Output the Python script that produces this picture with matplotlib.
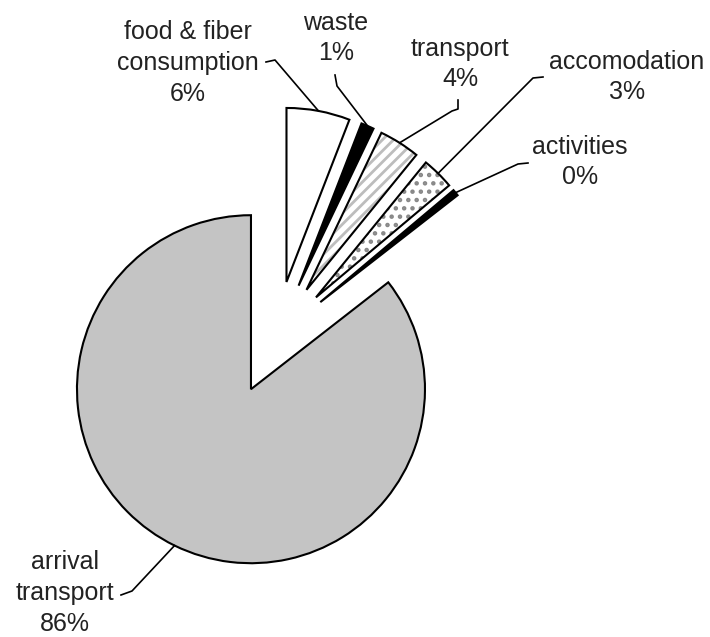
import matplotlib
matplotlib.use("Agg")
import matplotlib.pyplot as plt
from matplotlib.patches import Wedge
import numpy as np

# slice data (clockwise from 12 o'clock)
categories = ["food & fiber\nconsumption", "waste", "transport",
              "accomodation", "activities", "arrival\ntransport"]
shares = [5.9, 1.2, 3.8, 3.0, 0.6, 85.7]
pct_labels = ["6%", "1%", "4%", "3%", "0%", "86%"]

# styling per slice
face_colors = ["white", "black", "white", "white", "black", "#c4c4c4"]

W, H = 710, 637
CENTER = (276, 338)      # pie centre in pixel coords (top-left origin)
RADIUS = 174
EXPLODE = 57             # every slice is pulled out by the same amount

# label centres and leader elbows, pixel coords (top-left origin)
label_xy = [(188, 63), (336, 38), (460, 64), (627, 77), (580, 162), (65, 593)]
leader_pts = [
    [(266, 62), (275, 60)],
    [(335, 75), (337, 86)],
    [(458, 100), (458, 109), (452, 111)],
    [(543, 77), (533, 78)],
    [(528, 163), (518, 164)],
    [(121, 595), (132, 591)],
]


def flip(pt):
    return pt[0], H - pt[1]


plt.rcParams["font.family"] = ["Liberation Sans", "DejaVu Sans"]
plt.rcParams["hatch.linewidth"] = 2.0

fig = plt.figure(figsize=(W / 100, H / 100), dpi=100)
ax = fig.add_axes([0, 0, 1, 1])

wedges, _ = ax.pie(shares, explode=[EXPLODE] * len(shares), colors=face_colors,
                   startangle=90, counterclock=False,
                   center=flip(CENTER), radius=RADIUS,
                   wedgeprops=dict(edgecolor="black", linewidth=1.5))

# striped transport slice
tw = wedges[2]
stripes = Wedge(tw.center, tw.r, tw.theta1, tw.theta2, facecolor="white",
                edgecolor="#bdbdbd", hatch="///", linewidth=0, zorder=tw.get_zorder() - 0.1)
ax.add_patch(stripes)
tw.set_facecolor("none")

# dotted accomodation slice
aw = wedges[3]
dots = Wedge(aw.center, aw.r, aw.theta1, aw.theta2, facecolor="white",
             edgecolor="#888888", hatch="..", linewidth=0, zorder=aw.get_zorder() - 0.1)
ax.add_patch(dots)
aw.set_facecolor("none")

for i, w in enumerate(wedges):
    tx, ty = flip(label_xy[i])
    ax.text(tx, ty, categories[i] + "\n" + pct_labels[i], ha="center", va="center",
            fontsize=18, linespacing=1.36, color="#222222")
    # leader line to the middle of the slice arc
    tm = np.deg2rad((w.theta1 + w.theta2) / 2)
    end = (w.center[0] + w.r * np.cos(tm), w.center[1] + w.r * np.sin(tm))
    pts = [flip(p) for p in leader_pts[i]] + [end]
    xs, ys = zip(*pts)
    ax.plot(xs, ys, color="black", linewidth=1.2)

ax.set_xlim(0, W)
ax.set_ylim(0, H)
ax.set_aspect("equal")
ax.set_axis_off()

fig.savefig("out.png", dpi=100)
